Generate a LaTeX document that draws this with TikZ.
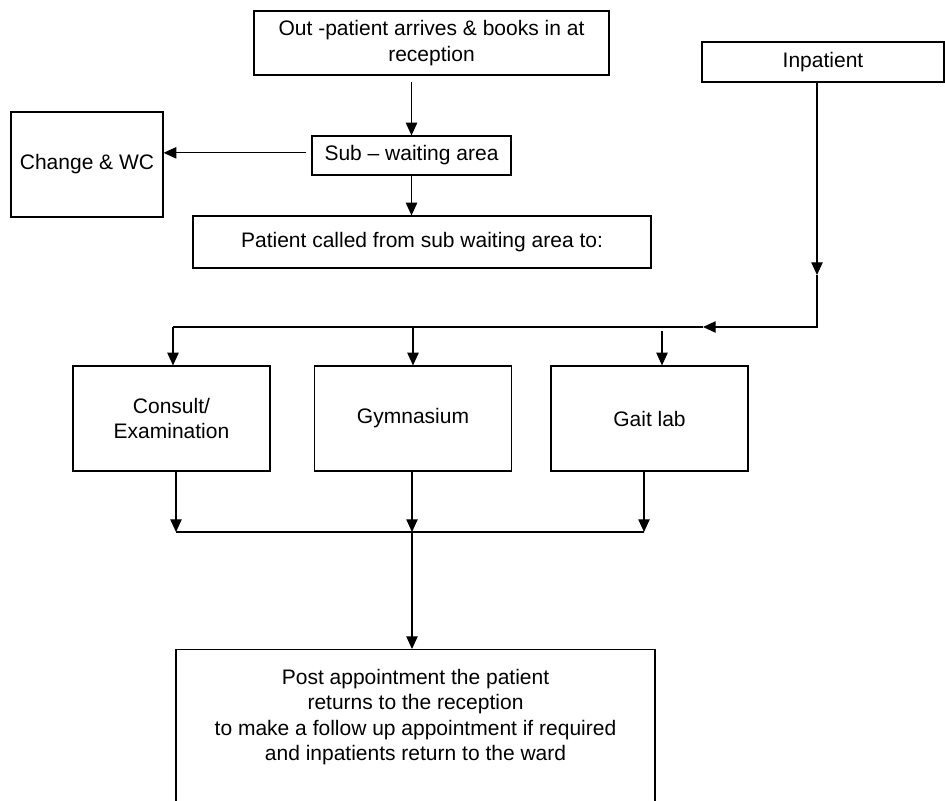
\documentclass[tikz,border=0pt]{standalone}
\usepackage{fontspec}
\setmainfont{Liberation Sans}
\usetikzlibrary{arrows.meta}

\begin{document}
\begin{tikzpicture}[x=0.75pt,y=-0.75pt,
  box/.style={draw,line width=0.9pt,inner sep=0pt,align=center,font=\fontsize{15.75}{19}\selectfont},
  txt/.style={inner sep=0pt,align=center,font=\fontsize{15.75}{19}\selectfont},
  arr/.style={line width=0.9pt,-{Triangle[length=9.5pt,width=8.5pt]}}]
  \useasboundingbox (0,0) rectangle (945,800);
  \clip (0,0) rectangle (945,800);
  % boxes
  \node[box,minimum width=266.25pt,minimum height=48pt] (outp) at (431.5,43) {Out -patient arrives \& books in at\\reception};
  \node[box,minimum width=181.5pt,minimum height=30pt] (inp) at (823,62) {Inpatient};
  \node[box,minimum width=114pt,minimum height=78.75pt] (change) at (87,164.5) {Change \& WC};
  \node[box,minimum width=149.25pt,minimum height=29.25pt] (sub) at (411.5,155.5) {Sub -- waiting area};
  \node[box,minimum width=343.5pt,minimum height=39pt] (called) at (422,242) {Patient called from sub waiting area to:};
  \node[box,minimum width=147.75pt,minimum height=78.75pt] (consult) at (171.5,418.5) {Consult/\\Examination};
  \node[box,minimum width=147.75pt,minimum height=78.75pt] (gym) at (413,418.5) {Gymnasium};
  \node[box,minimum width=147.75pt,minimum height=78.75pt] (gait) at (649.5,418.5) {Gait lab};
  \node[box,anchor=north,minimum width=359.25pt,minimum height=135pt] (post) at (415.5,649) {};
  \node[txt] (postTxt) at (415.5,717) {Post appointment the patient\\returns to the reception\\to make a follow up appointment if required\\and inpatients return to the ward};
  % points on the lines
  \coordinate (inTip) at (817,275);
  \coordinate (inCorner) at (817,327);
  \coordinate (inTipL) at (703,327);
  \coordinate (splitL) at (173,327);
  \coordinate (splitM) at (413,327);
  \coordinate (gaitIn) at (662,331);
  \coordinate (joinL) at (176,532);
  \coordinate (joinM) at (412,532);
  \coordinate (joinR) at (644,532);
  % top part
  \draw[arr] ([yshift=-5pt]outp.south -| sub.north) -- (sub.north);
  \draw[arr] ([xshift=-4pt,yshift=2pt]sub.west) -- ([yshift=2pt]change.east |- sub.west);
  \draw[arr] (sub.south) -- (sub.south |- called.north);
  % inpatient
  \draw[arr] (inTip |- inp.south) -- (inTip);
  \draw[arr] (inTip) -- (inCorner) -- (inTipL);
  \draw[line width=0.9pt] (inTipL) -- (splitL);
  \draw[arr] (splitL) -- (splitL |- consult.north);
  \draw[arr] (splitM) -- (splitM |- gym.north);
  \draw[arr] (gaitIn) -- (gaitIn |- gait.north);
  % bottom part
  \draw[arr] (joinL |- consult.south) -- (joinL);
  \draw[arr] (joinM |- gym.south) -- (joinM);
  \draw[arr] (joinR |- gait.south) -- (joinR);
  \draw[line width=0.9pt] (joinL) -- (joinR);
  \draw[arr] (joinM) -- (joinM |- post.north);
\end{tikzpicture}
\end{document}
